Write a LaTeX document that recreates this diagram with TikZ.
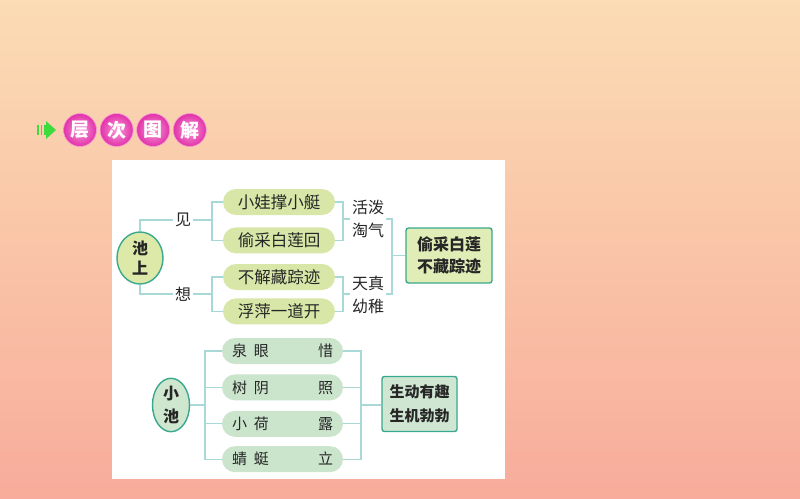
\documentclass[tikz,border=0pt]{standalone}
\usepackage{fontspec}
\setmainfont{Noto Sans CJK SC}
\usetikzlibrary{shapes,arrows,positioning}

\definecolor{bgtop}{HTML}{FBDCB4}
\definecolor{bgbot}{HTML}{F8AC9B}
\definecolor{edge}{HTML}{3AA88E}
\definecolor{linec}{HTML}{A9D9D6}
\definecolor{pillA}{HTML}{D8E7A7}
\definecolor{pillB}{HTML}{CBE4CC}
\definecolor{boxA}{HTML}{E0EDB6}
\definecolor{boxB}{HTML}{CFE7D2}
\definecolor{ovalA}{HTML}{DCE9A8}
\definecolor{ovalB}{HTML}{CFE6CF}
\definecolor{ink}{HTML}{262626}
\definecolor{pinkball}{HTML}{E232A8}
\definecolor{pinklight}{HTML}{F79AD8}
\definecolor{arrowgreen}{HTML}{3CDC3C}

\begin{document}
\begin{tikzpicture}[x=1pt, y=-1pt, align=center, node distance=12pt and 3pt]
    \tikzset{
        pill/.style     =   { rectangle
                            , rounded corners=13pt
                            , fill=pillA
                            , text=ink
                            , inner sep=0pt
                            , minimum width=112pt
                            , minimum height=26pt
                            , font=\fontsize{16.5}{20}\selectfont
        }
        , pillb/.style  =   { pill
                            , fill=pillB
                            , minimum width=121pt
                            , font=\fontsize{15}{20}\selectfont
        }
        , oval/.style   =   { ellipse
                            , draw=edge
                            , line width=1.4pt
                            , fill=ovalA
                            , text=ink
                            , inner sep=0pt
                            , minimum width=46pt
                            , minimum height=52pt
                            , font=\bfseries\fontsize{16}{20}\selectfont
        }
        , box/.style    =   { rectangle
                            , rounded corners=2.5pt
                            , draw=edge
                            , line width=1.4pt
                            , fill=boxA
                            , text=ink
                            , minimum width=86pt
                            , minimum height=55pt
                            , font=\bfseries\fontsize{16}{22}\selectfont
        }
        , word/.style   =   { inner sep=2pt
                            , text=ink
                            , font=\fontsize{16}{22.5}\selectfont
        }
        , link/.style   =   { draw=linec
                            , line width=1.2pt
        }
        , bead/.style   =   { circle
                            , inner color=pinklight
                            , outer color=pinkball
                            , draw=pinklight
                            , line width=0.6pt
                            , minimum size=33pt
                            , inner sep=0pt
                            , text=white
                            , font=\bfseries\fontsize{19}{19}\selectfont
        }
    }
    % page and panel
    \useasboundingbox (0,0) rectangle (800,498);
    \fill[top color=bgtop, bottom color=bgbot] (0,0) rectangle (800,498);
    \fill[white] (112,160) rectangle (505,479);

    % heading
    \fill[arrowgreen] (37,125) rectangle (38.5,135);
    \fill[arrowgreen] (40.5,125) rectangle (42,135);
    \fill[arrowgreen] (44,125) rectangle (46,135);
    \fill[arrowgreen] (46,121) -- (56,130) -- (46,139) -- cycle;
    \node(h1)[bead] at (80,130)      {层};
    \node(h2)[bead, right=of h1]     {次};
    \node(h3)[bead, right=of h2]     {图};
    \node(h4)[bead, right=of h3]     {解};

    % upper tree
    \node(cs)[oval] at (140,258)         {池\\上};
    \node(jian)[word] at (183,220)       {见};
    \node(xiang)[word] at (183,294)      {想};
    \node(p1)[pill] at (279,202)         {小娃撑小艇};
    \node(p2)[pill, below=of p1]         {偷采白莲回};
    \node(p3)[pill] at (279,277)         {不解藏踪迹};
    \node(p4)[pill, below=8pt of p3]     {浮萍一道开};
    \node(t1)[word] at (368,219)         {活泼\\淘气};
    \node(t2)[word] at (368,295)         {天真\\幼稚};
    \node(r1)[box] at (449,255.5)        {偷采白莲\\不藏踪迹};

    \coordinate(a1) at (212,221);
    \coordinate(a2) at (212,294);
    \coordinate(a3) at (343,219);
    \coordinate(a4) at (343,294);
    \coordinate(a5) at (392,255.5);

    \draw[link] (cs.north) |- (jian.west);
    \draw[link] (cs.south) |- (xiang.west);
    \draw[link] (jian.east) -- (jian.east -| a1);
    \draw[link] (xiang.east) -- (xiang.east -| a2);
    \draw[link] (p1.west) -| (a1) |- (p2.west);
    \draw[link] (p3.west) -| (a2) |- (p4.west);
    \draw[link] (p1.east) -| (a3) |- (p2.east);
    \draw[link] (p3.east) -| (a4) |- (p4.east);
    \draw[link] (a3) -- (a3 -| t1.west);
    \draw[link] (a4) -- (a4 -| t2.west);
    \draw[link] (t1.east |- a3) -| (a5) |- (t2.east |- a4);
    \draw[link] (a5) -- (r1.west);

    % lower tree
    \node(xc)[oval, fill=ovalB, minimum width=37pt, minimum height=51pt
             , font=\bfseries\fontsize{16}{23}\selectfont] at (171,405) {小\\池};
    \node(q1)[pillb] at (282.5,351)      {\makebox[101pt]{泉\hspace{7pt}眼\hfill 惜}};
    \node(q2)[pillb, below=10pt of q1]   {\makebox[101pt]{树\hspace{7pt}阴\hfill 照}};
    \node(q3)[pillb, below=10pt of q2]   {\makebox[101pt]{小\hspace{7pt}荷\hfill 露}};
    \node(q4)[pillb, below=9pt of q3]    {\makebox[101pt]{蜻\hspace{7pt}蜓\hfill 立}};
    \node(r2)[box, fill=boxB, minimum width=75pt
             , font=\bfseries\fontsize{15}{24}\selectfont] at (419.5,404) {生动有趣\\生机勃勃};

    \coordinate(c1) at (205,405);
    \coordinate(c2) at (361,405);

    \draw[link] (xc.east) -- (c1);
    \draw[link] (q1.west) -| (c1) |- (q4.west);
    \draw[link] (q2.west) -- (q2.west -| c1);
    \draw[link] (q3.west) -- (q3.west -| c1);
    \draw[link] (q1.east) -| (c2) |- (q4.east);
    \draw[link] (q2.east) -- (q2.east -| c2);
    \draw[link] (q3.east) -- (q3.east -| c2);
    \draw[link] (c2) -- (r2.west |- c2);
\end{tikzpicture}
\end{document}
